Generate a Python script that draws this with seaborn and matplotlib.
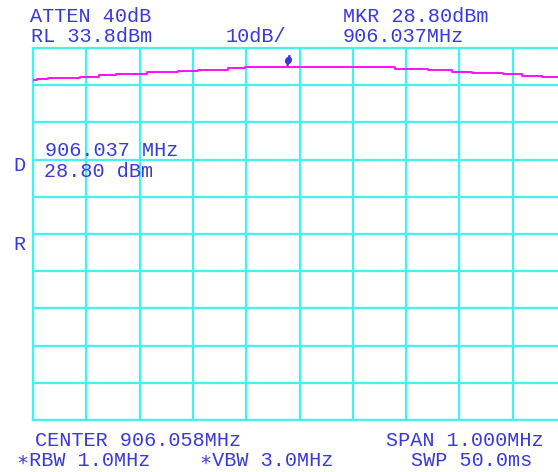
import matplotlib
matplotlib.use("Agg")
import matplotlib.pyplot as plt
import matplotlib.transforms as mtransforms
import numpy as np
import pandas as pd
import seaborn as sns

# Trace (step starts): frequency in MHz and level in dBm
freq_mhz = [905.558, 905.566, 905.586, 905.646, 905.682, 905.714, 905.772,
            905.830, 905.868, 905.924, 905.956, 906.237, 906.299, 906.344,
            906.382, 906.440, 906.475, 906.513, 906.558]
level_dbm = [25.12, 25.47, 25.74, 26.00, 26.46, 26.81, 27.43,
             27.70, 27.97, 28.34, 28.80, 28.07, 27.81, 27.43,
             27.08, 26.73, 26.27, 25.92, 25.92]

# Instrument settings
center_mhz = 906.058
span_mhz = 1.000
ref_level_dbm = 33.8
db_per_div = 10
marker_mhz = 906.037
marker_dbm = 28.80

header_left = ["ATTEN 40dB", "RL 33.8dBm"]
scale_label = "10dB/"
header_right = ["MKR 28.80dBm", "906.037MHz"]
readout = ["906.037 MHz", "28.80 dBm"]
side_letters = ["D", "R"]
footer = ["CENTER 906.058MHz", "SPAN 1.000MHz",
          "\u2217RBW 1.0MHz", "\u2217VBW 3.0MHz", "SWP 50.0ms"]

GRID = "#40f2f2"
TRACE = "#ff10ff"
TEXT = "#3838dc"

sns.set_style("white")
plt.rcParams["font.family"] = ["Liberation Mono", "DejaVu Sans Mono", "DejaVu Sans"]

W, H = 558, 472
fig = plt.figure(figsize=(W / 100, H / 100), dpi=100)
fig.patch.set_facecolor("white")

# graticule: 10 x 10 divisions, right edge runs slightly past the screen
ax = fig.add_axes([33 / W, 52 / H, 533 / W, 372 / H])
f0 = center_mhz - span_mhz / 2
ax.set_xlim(f0, f0 + span_mhz)
ax.set_ylim(ref_level_dbm - 10 * db_per_div, ref_level_dbm)
ax.set_xticks([f0 + k * span_mhz / 10 for k in range(11)])
ax.set_yticks([ref_level_dbm - k * db_per_div for k in range(11)])
ax.tick_params(length=0, labelbottom=False, labelleft=False)
ax.grid(True, color=GRID, linewidth=1.6)
for s in ax.spines.values():
    s.set_color(GRID)
    s.set_linewidth(1.6)
ax.set_facecolor("white")

df = pd.DataFrame({"freq": freq_mhz, "level": level_dbm})
sns.lineplot(data=df, x="freq", y="level", ax=ax, color=TRACE,
             linewidth=1.4, drawstyle="steps-post", zorder=3)
ax.set_xlabel("")
ax.set_ylabel("")

# marker symbol sits just above the trace
mk_trans = mtransforms.offset_copy(ax.transData, fig=fig, x=0, y=4.5, units="points")
ax.plot([marker_mhz], [marker_dbm], marker=r"$\phi$", markersize=7,
        color=TEXT, transform=mk_trans, zorder=4, clip_on=False)


def put(x, y, s, **kw):
    fig.text(x / W, 1 - y / H, s, color=TEXT, fontsize=14.5,
             ha="center", va="baseline", **kw)


put(91, 22, header_left[0])
put(92, 42, header_left[1])
put(256, 42, scale_label)
put(416, 22, header_right[0])
put(403, 42, header_right[1])
put(112, 156, readout[0])
put(99, 177, readout[1])
put(19, 171, side_letters[0])
put(19, 250, side_letters[1])
put(138, 446, footer[0])
put(465, 446, footer[1])
put(84, 466, footer[2])
put(267, 466, footer[3])
put(472, 466, footer[4])

fig.savefig("out.png", dpi=100, facecolor="white")
